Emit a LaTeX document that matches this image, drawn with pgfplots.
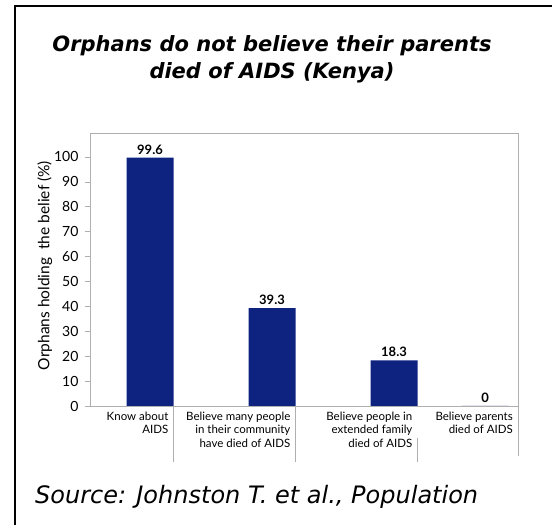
\documentclass[border=0pt]{standalone}
\usepackage{fontspec}
\setmainfont{Lato}
\newfontfamily\dejavu{DejaVu Sans}
\usepackage{pgfplots}
\pgfplotsset{compat=1.18}
\definecolor{barblue}{RGB}{14,34,128}
\definecolor{axisgray}{RGB}{175,175,175}
\begin{document}
% picture coordinates: origin at the axis' lower left corner, 1bp = 1 pixel
\begin{tikzpicture}[x=1bp,y=1bp]
\useasboundingbox (-90,-119) rectangle (462,406);
\fill[white] (-90,-119) rectangle (462,406);
% outer frame (only the top and left edges show)
\draw[line width=1.5bp] (-75,-119) -- (-75,400) -- (462,400);
% title
\node[font=\dejavu\bfseries\itshape\fontsize{21bp}{28bp}\selectfont, anchor=base] at (182,354) {Orphans do not believe their parents};
\node[font=\dejavu\bfseries\itshape\fontsize{21bp}{28bp}\selectfont, anchor=base] at (182,327) {died of AIDS (Kenya)};
% source
\node[font=\dejavu\itshape\fontsize{24bp}{28bp}\selectfont, anchor=base west, inner sep=0pt] at (-55,-97) {Source: Johnston T. et al., Population};

\begin{axis}[
    scale only axis,
    width=428bp, height=273bp,
    xmin=-0.492, xmax=3.016,
    ymin=0, ymax=109.5,
    ybar, bar width=47bp,
    clip=false,
    /pgf/number format/assume math mode=true,
    axis line style={axisgray},
    tick align=outside,
    major tick length=5bp,
    ytick={0,10,...,100},
    ytick pos=left,
    ytick style={axisgray},
    yticklabel style={font=\fontsize{14bp}{14bp}\selectfont, xshift=-3bp},
    xtick={0.193,1.193,2.193,3.016},
    xtick style={draw=none},
    xticklabels={{Know about\\AIDS},{Believe many people\\in their community\\have died of AIDS},{Believe people in\\extended family\\died of AIDS},{Believe parents\\died of AIDS}},
    xticklabel style={anchor=north east, align=right, xshift=-4bp, inner sep=1bp,
        font=\fontsize{11.5bp}{13.3bp}\selectfont},
    ylabel={Orphans holding\ \ the belief (\%)},
    ylabel style={font=\fontsize{15.5bp}{17bp}\selectfont, yshift=-5bp, xshift=4bp},
    nodes near coords,
    every node near coord/.append style={font=\bfseries\fontsize{13bp}{13bp}\selectfont, black},
]
\addplot[fill=barblue, draw=none] coordinates {(0,99.6) (1,39.3) (2,18.3) (2.746,0)};
\end{axis}
% separators below the category axis
\draw[axisgray] (83.5,0) -- (83.5,-56);
\draw[axisgray] (205.5,0) -- (205.5,-56);
\draw[axisgray] (327.5,-32) -- (327.5,-56);
\draw[axisgray] (428,0) -- (428,-50);
\end{tikzpicture}
\end{document}
